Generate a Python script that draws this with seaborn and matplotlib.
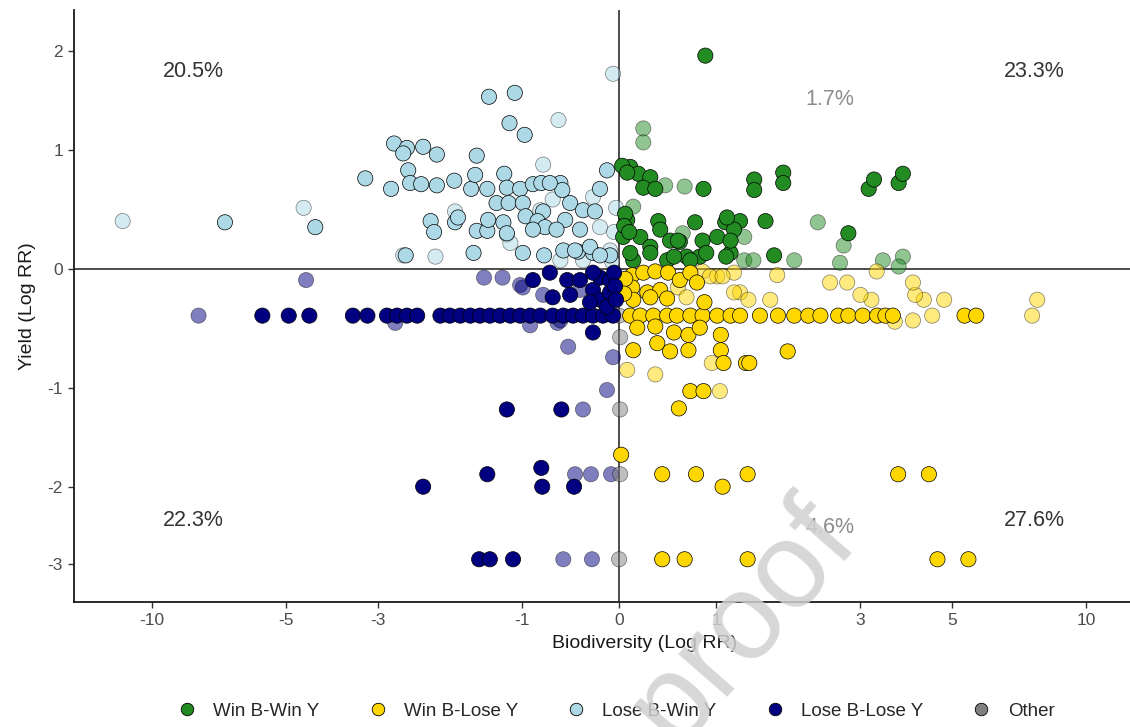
import matplotlib
matplotlib.use("Agg")
import matplotlib.pyplot as plt
import seaborn as sns
import pandas as pd
from matplotlib.lines import Line2D
from matplotlib.ticker import NullLocator

# ---- data (log response ratios) ----
# Win B-Win Y (green)
ww_solid_x = [0.88, 0.11, 0.19, 0.31, 0.24, 0.36, 0.86, 1.44, 1.44, 1.81, 1.81, 3.15, 3.25, 3.74, 3.83,
              0.39, 0.77, 1.10, 1.27, 1.58, 2.79, 0.85, 1.01, 1.20, 0.41, 0.51, 0.61, 0.21, 0.31,
              1.69, 1.16, 0.82, 0.68, 0.14, 0.48, 0.08, 1.12, 0.04, 0.59, 1.16, 0.11, 0.31, 0.55,
              0.72, 0.89, 1.11, 0.03, 0.08, 0.06, 0.05, 0.10]
ww_solid_y = [1.95, 0.85, 0.79, 0.76, 0.67, 0.66, 0.66, 0.74, 0.65, 0.80, 0.71, 0.66, 0.74, 0.71, 0.79,
              0.39, 0.38, 0.38, 0.39, 0.39, 0.29, 0.23, 0.26, 0.32, 0.32, 0.23, 0.22, 0.26, 0.18,
              0.11, 0.13, 0.10, 0.10, 0.07, 0.07, 0.40, 0.42, 0.26, 0.23, 0.23, 0.13, 0.13, 0.10,
              0.07, 0.13, 0.10, 0.86, 0.80, 0.45, 0.35, 0.30]
ww_faded_x = [0.24, 0.24, 0.46, 0.66, 0.14, 2.30, 2.71, 0.64, 1.32, 1.96, 2.65, 1.32, 1.43, 3.42, 3.83, 3.74]
ww_faded_y = [1.20, 1.07, 0.69, 0.68, 0.51, 0.38, 0.19, 0.29, 0.26, 0.07, 0.05, 0.07, 0.07, 0.07, 0.10, 0.02]

# Win B-Lose Y (gold)
wl_solid_x = [0.11, 0.21, 0.34, 0.48, 0.58, 0.72, 0.85, 1.01, 1.16, 1.27, 1.51, 1.74, 1.96, 2.16, 2.34,
              2.62, 2.79, 3.04, 3.31, 3.47, 3.62, 5.35, 5.69,
              0.13, 0.24, 0.36, 0.49, 0.61, 0.72, 0.79, 0.13, 0.28, 0.41, 0.48, 0.87, 0.14, 0.31,
              0.06, 0.05,
              0.18, 0.36, 0.55, 0.70, 0.82, 1.05, 0.14, 0.38, 0.51, 0.70, 1.05, 1.08, 1.34, 1.38,
              1.87, 0.72, 0.86, 0.60, 0.02,
              0.43, 0.78, 1.07, 1.36, 3.73, 4.42,
              0.43, 0.66, 1.36, 4.63, 5.46]
wl_solid_y = [-0.38] * 23 + \
             [-0.05, -0.03, -0.02, -0.03, -0.09, -0.03, -0.11, -0.15, -0.19, -0.17, -0.24, -0.27, -0.25, -0.23,
              -0.08, -0.20,
              -0.48, -0.47, -0.52, -0.54, -0.48, -0.54, -0.67, -0.61, -0.68, -0.67, -0.67, -0.78, -0.78, -0.78,
              -0.68, -1.03, -1.03, -1.19, -1.65,
              -1.86, -1.86, -2.00, -1.86, -1.86, -1.86,
              -2.93, -2.93, -2.93, -2.93, -2.93]
wl_faded_x = [3.66, 4.05, 4.50, 7.60, 7.80, 4.80, 4.30, 4.10, 4.05, 3.30, 3.20, 3.00, 2.49, 2.77, 1.27,
              1.37, 1.64, 1.73, 0.85, 1.01, 1.20, 0.93, 1.07, 0.59, 0.68, 0.08, 0.36, 0.95, 1.04, 1.20]
wl_faded_y = [-0.43, -0.42, -0.38, -0.38, -0.25, -0.25, -0.25, -0.21, -0.11, -0.02, -0.25, -0.21, -0.11, -0.11, -0.19,
              -0.25, -0.25, -0.05, -0.02, -0.06, -0.03, -0.06, -0.06, -0.15, -0.23, -0.84, -0.88, -0.78, -1.03, -0.19]

# Lose B-Win Y (light blue)
lw_solid_x = [-1.38, -1.08, -1.14, -0.97, -2.72, -2.51, -2.57, -2.26, -2.06, -1.53,
              -3.23, -2.77, -2.49, -2.46, -2.29, -2.06, -1.82, -1.60, -1.55, -1.40, -1.20, -1.17, -1.02,
              -0.88, -0.79, -0.59, -0.57, -0.19, -0.12, -0.70,
              -1.29, -1.15, -0.99, -0.77, -0.49, -0.36, -0.24, -0.96, -0.83, -0.75, -0.54,
              -2.15, -2.10, -1.81, -1.77, -1.53, -1.40, -1.39, -1.21, -0.88, -0.63, -0.39, -1.17,
              -2.53, -1.57, -0.99, -0.76, -0.41, -0.26, -0.09, -0.56, -0.44, -0.29, -0.19,
              -6.90, -4.28]
lw_solid_y = [1.51, 1.55, 1.25, 1.14, 1.06, 1.02, 0.97, 1.03, 0.96, 0.95,
              0.75, 0.66, 0.82, 0.71, 0.70, 0.69, 0.73, 0.66, 0.78, 0.66, 0.79, 0.67, 0.66,
              0.70, 0.71, 0.71, 0.65, 0.66, 0.82, 0.71,
              0.54, 0.54, 0.54, 0.47, 0.54, 0.48, 0.47, 0.43, 0.39, 0.34, 0.40,
              0.39, 0.30, 0.38, 0.42, 0.31, 0.31, 0.40, 0.38, 0.32, 0.32, 0.32, 0.29,
              0.11, 0.13, 0.13, 0.11, 0.14, 0.13, 0.11, 0.15, 0.15, 0.18, 0.11,
              0.38, 0.34]
lw_faded_x = [-11.6, -4.56, -0.06, -0.61, -0.77, -0.67, -1.81, -1.17, -2.08, -2.57, -0.80, -0.26,
              -0.19, -1.13, -0.09, -0.07, -0.36, -0.59, -0.03, -0.05]
lw_faded_y = [0.39, 0.50, 1.75, 1.28, 0.87, 0.57, 0.47, 0.28, 0.10, 0.11, 0.48, 0.59,
              0.34, 0.21, 0.15, 0.06, 0.07, 0.07, 0.50, 0.30]

# Lose B-Lose Y (navy)
ll_solid_x = [-5.68, -4.94, -4.42, -3.47, -3.19, -2.84, -2.67, -2.51, -2.35, -2.01, -1.88, -1.74, -1.61,
              -1.49, -1.37, -1.25, -1.13, -1.02, -0.91, -0.80, -0.67, -0.56, -0.46, -0.36, -0.26, -0.16, -0.06,
              -0.88, -0.70, -0.52, -0.39, -0.19, -0.09, -0.26, -0.67, -0.49, -0.26, -0.19, -0.09, -0.29,
              -0.12, -0.26, -0.05, -0.04, -0.03,
              -1.17, -0.58, -1.40, -0.79, -2.26, -0.78, -0.45, -1.50, -1.37, -1.10]
ll_solid_y = [-0.38] * 27 + \
             [-0.09, -0.03, -0.09, -0.09, -0.07, -0.09, -0.03, -0.23, -0.21, -0.17, -0.25, -0.19, -0.27,
              -0.31, -0.52, -0.03, -0.14, -0.25,
              -1.20, -1.20, -1.86, -1.79, -2.00, -2.00, -2.00, -2.93, -2.93, -2.93]
ll_faded_x = [-7.9, -2.70, -0.91, -0.62, -4.50, -1.44, -1.22, -1.02, -0.77, -0.39, -0.99, -0.59,
              -0.51, -0.06, -0.12, -0.36, -0.44, -0.28, -0.08, -0.56, -0.27]
ll_faded_y = [-0.38, -0.44, -0.46, -0.44, -0.09, -0.07, -0.07, -0.13, -0.21, -0.17, -0.15, -0.42,
              -0.64, -0.73, -1.02, -1.20, -1.86, -1.86, -1.86, -2.93, -2.93]

# Other (grey)
other_x = [0.01, 0.01, 0.01, 0.00, 0.00]
other_y = [-0.56, -1.20, -1.86, -2.93, -0.38]

groups = ["Win B-Win Y", "Win B-Lose Y", "Lose B-Win Y", "Lose B-Lose Y", "Other"]
colors = ["#228B22", "#FFD700", "#ADD8E6", "#000080", "#808080"]

# quadrant shares
share_labels = ["20.5%", "23.3%", "1.7%", "22.3%", "27.6%", "4.6%"]
share_x = [-8.1, 7.7, 2.49, -8.1, 7.7, 2.49]
share_y = [1.77, 1.77, 1.48, -2.41, -2.41, -2.50]
share_colors = ["#333333", "#333333", "#8c8c8c", "#333333", "#333333", "#8c8c8c"]

x_ticks = [-10, -5, -3, -1, 0, 1, 3, 5, 10]
y_ticks = [-3, -2, -1, 0, 1, 2]

# ---- build long table ----
parts = []
for g, sx, sy, fx, fy in [
    ("Win B-Win Y", ww_solid_x, ww_solid_y, ww_faded_x, ww_faded_y),
    ("Win B-Lose Y", wl_solid_x, wl_solid_y, wl_faded_x, wl_faded_y),
    ("Lose B-Win Y", lw_solid_x, lw_solid_y, lw_faded_x, lw_faded_y),
    ("Lose B-Lose Y", ll_solid_x, ll_solid_y, ll_faded_x, ll_faded_y),
    ("Other", [], [], other_x, other_y),
]:
    parts.append(pd.DataFrame({"x": sx, "y": sy, "group": g, "faded": False}))
    parts.append(pd.DataFrame({"x": fx, "y": fy, "group": g, "faded": True}))
df = pd.concat(parts, ignore_index=True)

sns.set_style("white")
plt.rcParams["font.family"] = ["Liberation Sans", "DejaVu Sans"]

fig = plt.figure(figsize=(11.3, 7.27), dpi=100)
# the original panel runs past the right edge of the (cropped) image
ax = fig.add_axes([0.0655, 0.172, 1.0097, 0.814])
ax.set_xscale("asinh", linear_width=2)
ax.set_yscale("asinh", linear_width=2)

ax.axhline(0, color="#4d4d4d", lw=1.4, zorder=0.5)
ax.axvline(0, color="#4d4d4d", lw=1.4, zorder=0.5)

pal = dict(zip(groups, colors))
sns.scatterplot(data=df[df["faded"]], x="x", y="y", hue="group", palette=pal, hue_order=groups,
                s=120, alpha=0.5, edgecolor="black", linewidth=0.5, legend=False, ax=ax, zorder=2)
sns.scatterplot(data=df[~df["faded"]], x="x", y="y", hue="group", palette=pal, hue_order=groups,
                s=120, alpha=1.0, edgecolor="black", linewidth=0.5, legend=False, ax=ax, zorder=3)

for lab, tx, ty, tc in zip(share_labels, share_x, share_y, share_colors):
    ax.text(tx, ty, lab, ha="center", va="center", fontsize=15.5, color=tc, zorder=4)

ax.set_xlim(-14.8, 19.06)
ax.set_ylim(-3.59, 2.5)
ax.set_xticks(x_ticks)
ax.set_xticklabels([str(t) for t in x_ticks])
ax.set_yticks(y_ticks)
ax.set_yticklabels([str(t) for t in y_ticks])
ax.xaxis.set_minor_locator(NullLocator())
ax.yaxis.set_minor_locator(NullLocator())
ax.tick_params(axis="both", direction="out", length=4, width=1, color="#333333",
               labelsize=12.5, labelcolor="#4d4d4d", bottom=True, left=True, pad=4)
ax.set_xlabel("Biodiversity (Log RR)", fontsize=14, color="#1a1a1a", labelpad=5)
ax.set_ylabel("Yield (Log RR)", fontsize=14, color="#1a1a1a", labelpad=8)
sns.despine(ax=ax)
for side in ["left", "bottom"]:
    ax.spines[side].set_color("#1a1a1a")
    ax.spines[side].set_linewidth(1.3)

handles = [Line2D([], [], marker="o", ls="", markerfacecolor=c, markeredgecolor="black",
                  markeredgewidth=0.6, markersize=9) for c in colors]
fig.legend(handles, groups, loc="center", bbox_to_anchor=(0.541, 0.022), ncol=5, frameon=False,
           fontsize=13.5, handlelength=2.0, handletextpad=0.4, columnspacing=2.1)

# faint watermark of the source document
fig.text(0.762, 0.252, "Journal Pre-proof", fontsize=88, color="#d0d0d0", alpha=0.85,
         rotation=49, rotation_mode="anchor", ha="right", va="baseline", zorder=10)

fig.savefig("out.png", dpi=100)
